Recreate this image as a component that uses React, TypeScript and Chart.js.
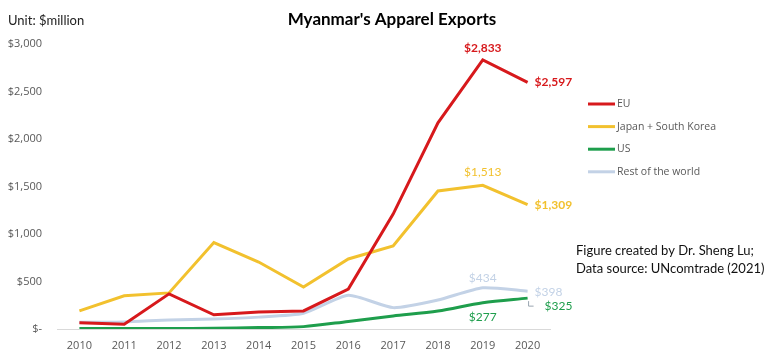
import React, { useEffect, useRef } from "react";
import { Chart, registerables } from "chart.js";

Chart.register(...registerables);

const years = ["2010","2011","2012","2013","2014","2015","2016","2017","2018","2019","2020"];
const euValues = [65, 50, 370, 150, 180, 190, 420, 1210, 2170, 2833, 2597];
const japanKoreaValues = [190, 350, 380, 910, 705, 442, 737, 874, 1453, 1513, 1309];
const usValues = [5, 5, 5, 8, 15, 25, 80, 137, 190, 277, 325];
const restValues = [70, 75, 95, 105, 125, 165, 355, 225, 305, 434, 398];
const yTicks = [0, 500, 1000, 1500, 2000, 2500, 3000];

const RED = "#D7191C";
const GOLD = "#F2C12E";
const GREEN = "#1E9E4C";
const LIGHT = "#C3D2E6";

const FONT = "Lato, 'Open Sans', sans-serif";

const fmt = (v: number) => (v === 0 ? "$-" : "$" + v.toLocaleString("en-US"));

// annotations: [datasetIndex, pointIndex, dx, dy, align, color, bold]
const annotations: [number, number, number, number, CanvasTextAlign, string, boolean][] = [
  [0, 9, 0, -12, "center", RED, true],
  [0, 10, 7, 0, "left", RED, true],
  [1, 9, 0, -13, "center", GOLD, false],
  [1, 10, 7, 0, "left", GOLD, true],
  [3, 9, 0, -10, "center", LIGHT, false],
  [3, 10, 7, 1, "left", LIGHT, false],
  [2, 9, 0, 14, "center", GREEN, false],
  [2, 10, 17, 8, "left", GREEN, false],
];

const extras = {
  id: "extras",
  afterDraw(chart: any) {
    const ctx = chart.ctx;
    ctx.save();
    // title
    ctx.fillStyle = "#000";
    ctx.font = `bold 17px ${FONT}`;
    ctx.textAlign = "center";
    ctx.textBaseline = "middle";
    ctx.fillText("Myanmar's Apparel Exports", 392, 20);
    // unit
    ctx.font = `13px ${FONT}`;
    ctx.textAlign = "left";
    ctx.fillStyle = "#222";
    ctx.fillText("Unit: $million", 8, 21);
    // annotations
    annotations.forEach(([di, pi, dx, dy, align, color, bold]) => {
      const meta = chart.getDatasetMeta(di);
      const pt = meta.data[pi];
      const val = chart.data.datasets[di].data[pi] as number;
      ctx.font = `${bold ? "bold " : ""}12px ${FONT}`;
      ctx.fillStyle = color;
      ctx.textAlign = align;
      ctx.textBaseline = "middle";
      ctx.fillText(fmt(val), pt.x + dx, pt.y + dy);
    });
    // leader line for US 2020 label
    {
      const pt = chart.getDatasetMeta(2).data[10];
      ctx.strokeStyle = "#9aa5b0";
      ctx.lineWidth = 1;
      ctx.beginPath();
      ctx.moveTo(pt.x + 1, pt.y + 3);
      ctx.lineTo(pt.x + 1, pt.y + 8);
      ctx.lineTo(pt.x + 6, pt.y + 8);
      ctx.stroke();
    }
    // legend
    const items = [
      ["EU", RED],
      ["Japan + South Korea", GOLD],
      ["US", GREEN],
      ["Rest of the world", LIGHT],
    ];
    ctx.font = `10.5px 'Open Sans', sans-serif`;
    ctx.textAlign = "left";
    ctx.textBaseline = "middle";
    items.forEach(([label, color], i) => {
      const y = 104 + i * 22.6;
      ctx.strokeStyle = color;
      ctx.lineWidth = 3;
      ctx.beginPath();
      ctx.moveTo(588, y);
      ctx.lineTo(615, y);
      ctx.stroke();
      ctx.fillStyle = "#595959";
      ctx.fillText(label, 617, y);
    });
    // source
    ctx.font = `13px ${FONT}`;
    ctx.fillStyle = "#111";
    ctx.fillText("Figure created by Dr. Sheng Lu;", 576, 251);
    ctx.fillText("Data source: UNcomtrade (2021)", 576, 269);
    ctx.restore();
  },
};

export default function App() {
  const ref = useRef<HTMLCanvasElement>(null);
  useEffect(() => {
    document.body.style.margin = "0";
    const ds = (label: string, data: number[], color: string, tension = 0) => ({
      label,
      data,
      borderColor: color,
      backgroundColor: color,
      borderWidth: 3,
      pointRadius: 0,
      tension,
      fill: false,
    });
    const chart = new Chart(ref.current!, {
      type: "line",
      data: {
        labels: years,
        datasets: [
          ds("EU", euValues, RED),
          ds("Japan + South Korea", japanKoreaValues, GOLD),
          ds("US", usValues, GREEN, 0.3),
          ds("Rest of the world", restValues, LIGHT, 0.2),
        ],
      },
      options: {
        animation: false,
        responsive: false,
        layout: { padding: { left: 0, top: 44, right: 230, bottom: 0 } },
        plugins: { legend: { display: false }, tooltip: { enabled: false } },
        scales: {
          x: {
            offset: true,
            grid: { display: false, drawTicks: false },
            border: { display: true, color: "#d9d9d9", width: 1 },
            ticks: { color: "#595959", font: { family: "'Open Sans', sans-serif", size: 11 }, padding: 10 },
            afterFit: (s: any) => { s.height = 35; },
          },
          y: {
            min: 0,
            max: 3000,
            afterBuildTicks: (s: any) => { s.ticks = yTicks.map((v) => ({ value: v })); },
            grid: { display: false, drawTicks: false },
            border: { display: false },
            ticks: {
              color: "#595959",
              font: { family: "'Open Sans', sans-serif", size: 11 },
              padding: 15,
              callback: (v: any) => fmt(Number(v)),
            },
            afterFit: (s: any) => { s.width = 57; },
          },
        },
      },
      plugins: [extras],
    });
    return () => chart.destroy();
  }, []);
  return (
    <div style={{ width: 780, height: 364 }}>
      <canvas ref={ref} width={780} height={364} style={{ display: "block" }} />
    </div>
  );
}
